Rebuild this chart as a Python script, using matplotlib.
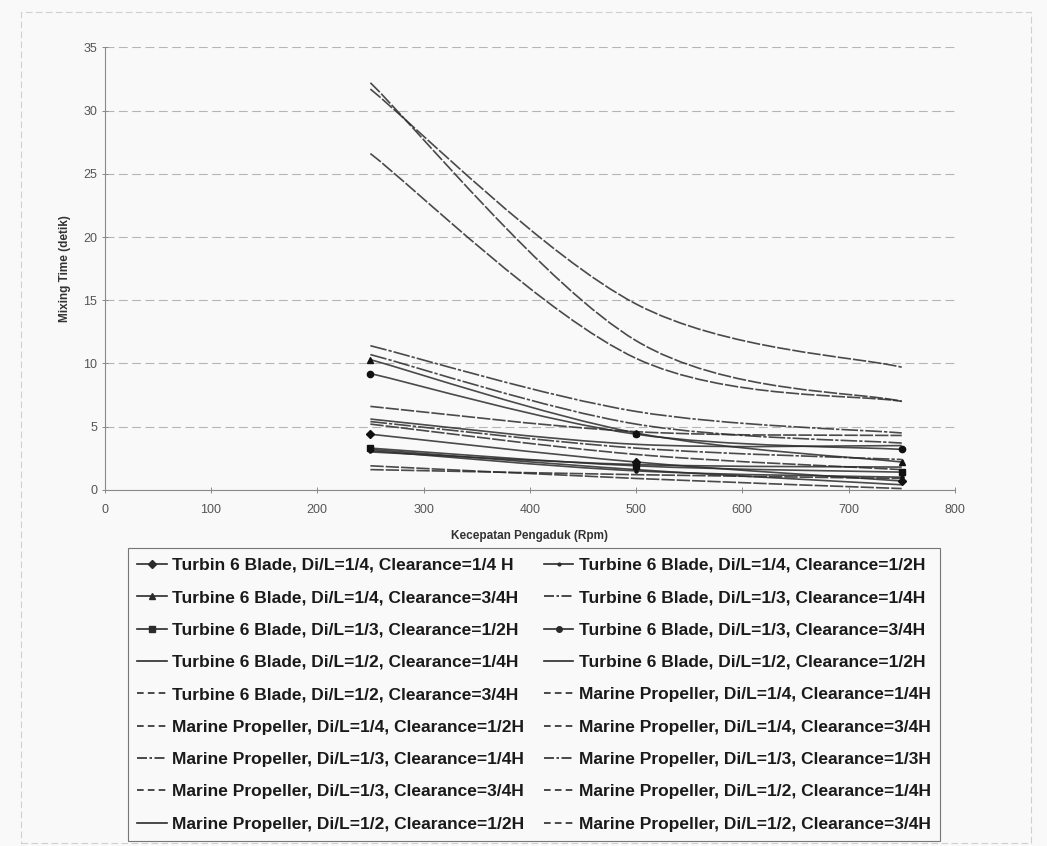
import matplotlib
matplotlib.use("Agg")
import matplotlib.pyplot as plt
import numpy as np
from matplotlib.lines import Line2D
from matplotlib.patches import PathPatch, Rectangle
from matplotlib.path import Path

plt.rcParams["font.family"] = ["Liberation Sans", "DejaVu Sans"]

# --- data ---
rpm = [250, 500, 750]

labels = [
    "Turbin 6 Blade, Di/L=1/4, Clearance=1/4 H",
    "Turbine 6 Blade, Di/L=1/4, Clearance=1/2H",
    "Turbine 6 Blade, Di/L=1/4, Clearance=3/4H",
    "Turbine 6 Blade, Di/L=1/3, Clearance=1/4H",
    "Turbine 6 Blade, Di/L=1/3, Clearance=1/2H",
    "Turbine 6 Blade, Di/L=1/3, Clearance=3/4H",
    "Turbine 6 Blade, Di/L=1/2, Clearance=1/4H",
    "Turbine 6 Blade, Di/L=1/2, Clearance=1/2H",
    "Turbine 6 Blade, Di/L=1/2, Clearance=3/4H",
    "Marine Propeller, Di/L=1/4, Clearance=1/4H",
    "Marine Propeller, Di/L=1/4, Clearance=1/2H",
    "Marine Propeller, Di/L=1/4, Clearance=3/4H",
    "Marine Propeller, Di/L=1/3, Clearance=1/4H",
    "Marine Propeller, Di/L=1/3, Clearance=1/3H",
    "Marine Propeller, Di/L=1/3, Clearance=3/4H",
    "Marine Propeller, Di/L=1/2, Clearance=1/4H",
    "Marine Propeller, Di/L=1/2, Clearance=1/2H",
    "Marine Propeller, Di/L=1/2, Clearance=3/4H",
]

mixing_time = [
    [4.4, 2.2, 0.7],
    [3.1, 1.5, 1.0],
    [10.3, 4.5, 2.2],
    [5.4, 3.3, 2.4],
    [3.3, 1.9, 1.4],
    [9.2, 4.4, 3.2],
    [5.6, 3.6, 3.5],
    [3.0, 2.0, 1.8],
    [1.9, 0.9, 0.1],
    [32.2, 11.8, 7.0],
    [31.7, 14.7, 9.7],
    [26.6, 10.4, 7.0],
    [11.4, 6.2, 4.5],
    [10.7, 5.2, 3.7],
    [6.6, 4.6, 4.3],
    [5.2, 2.8, 1.6],
    [3.2, 1.6, 0.4],
    [1.6, 1.2, 0.9],
]

MARKERS = {0: "D", 1: ".", 2: "^", 4: "s", 5: "o"}
DASHED = {8, 9, 10, 11, 14, 15, 17}
DASHDOT = {3, 12, 13}
LINE_COLOR = "#2b2b2b"


def smooth_path(xs, ys):
    """Excel-like smoothed line: Catmull-Rom segments as cubic Beziers."""
    pts = np.column_stack([xs, ys]).astype(float)
    n = len(pts)
    verts = [pts[0]]
    codes = [Path.MOVETO]
    for i in range(n - 1):
        p_prev = pts[max(i - 1, 0)]
        p0, p1 = pts[i], pts[i + 1]
        p_next = pts[min(i + 2, n - 1)]
        c1 = p0 + (p1 - p_prev) / 6.0
        c2 = p1 - (p_next - p0) / 6.0
        verts += [c1, c2, p1]
        codes += [Path.CURVE4] * 3
    return Path(verts, codes)


def line_style(idx, legend=False):
    # on the scan the dashes of the plotted curves are nearly closed up,
    # while the legend samples still show them clearly
    if idx in DASHED:
        return (0, (4, 2.5)) if legend else (0, (8, 1.2))
    if idx in DASHDOT:
        return (0, (6, 1.5, 1.5, 1.5)) if legend else (0, (10, 1.2, 2, 1.2))
    return "-"


fig = plt.figure(figsize=(10.47, 8.46), dpi=100, facecolor="#f9f9f9")
ax = fig.add_axes([0.100, 0.421, 0.812, 0.523])
ax.set_facecolor("#f9f9f9")

handles = []
for idx, (label, vals) in enumerate(zip(labels, mixing_time)):
    patch = PathPatch(smooth_path(rpm, vals), facecolor="none", edgecolor=LINE_COLOR,
                      linewidth=1.2, linestyle=line_style(idx), alpha=0.85)
    ax.add_patch(patch)
    marker = MARKERS.get(idx)
    if marker:
        ax.plot(rpm, vals, linestyle="none", marker=marker, markersize=4.5,
                color="#111111")
    handles.append(Line2D([0], [0], color=LINE_COLOR, linewidth=1.2,
                          linestyle=line_style(idx, legend=True),
                          marker=marker or "None", markersize=4, label=label))

ax.set_xlim(0, 800)
ax.set_ylim(0, 35)
ax.set_xticks(np.arange(0, 801, 100))
ax.set_yticks(np.arange(0, 36, 5))
ax.grid(axis="y", color="#b5b5b5", linestyle=(0, (8, 4)), linewidth=0.8)
ax.set_axisbelow(True)
for side in ("top", "right"):
    ax.spines[side].set_visible(False)
for side in ("left", "bottom"):
    ax.spines[side].set_color("#8a8a8a")
    ax.spines[side].set_linewidth(0.8)
ax.tick_params(axis="both", labelsize=9, labelcolor="#555555", color="#8a8a8a",
               direction="inout", length=4, width=0.7)
ax.tick_params(axis="x", pad=8)
ax.set_xlabel("Kecepatan Pengaduk (Rpm)", fontsize=8.5, fontweight="bold",
              color="#333333", labelpad=10)
ax.set_ylabel("Mixing Time (detik)", fontsize=8.5, fontweight="bold",
              color="#333333", labelpad=9)

# Excel-style legend fills rows first; matplotlib fills columns, so reorder.
order = list(range(0, 18, 2)) + list(range(1, 18, 2))
leg = fig.legend(
    [handles[i] for i in order],
    [labels[i] for i in order],
    loc="upper left",
    bbox_to_anchor=(0.122, 0.007, 0.776, 0.345),
    mode="expand",
    ncol=2,
    prop={"weight": "bold", "size": 12.5},
    labelspacing=0.99,
    handlelength=1.7,
    handletextpad=0.3,
    columnspacing=0.6,
    borderpad=0.55,
    borderaxespad=0.0,
    frameon=True,
    fancybox=False,
)
leg.get_frame().set_edgecolor("#555555")
leg.get_frame().set_linewidth(0.8)
leg.get_frame().set_facecolor("#f9f9f9")
for txt in leg.get_texts():
    txt.set_color("#1a1a1a")

# faint border of the chart area on the scanned page
fig.add_artist(Rectangle((0.02, 0.004), 0.965, 0.982, transform=fig.transFigure,
                         fill=False, edgecolor="#d0d0d0", linewidth=0.8,
                         linestyle=(0, (6, 3))))

fig.savefig("out.png", dpi=100, facecolor=fig.get_facecolor())
